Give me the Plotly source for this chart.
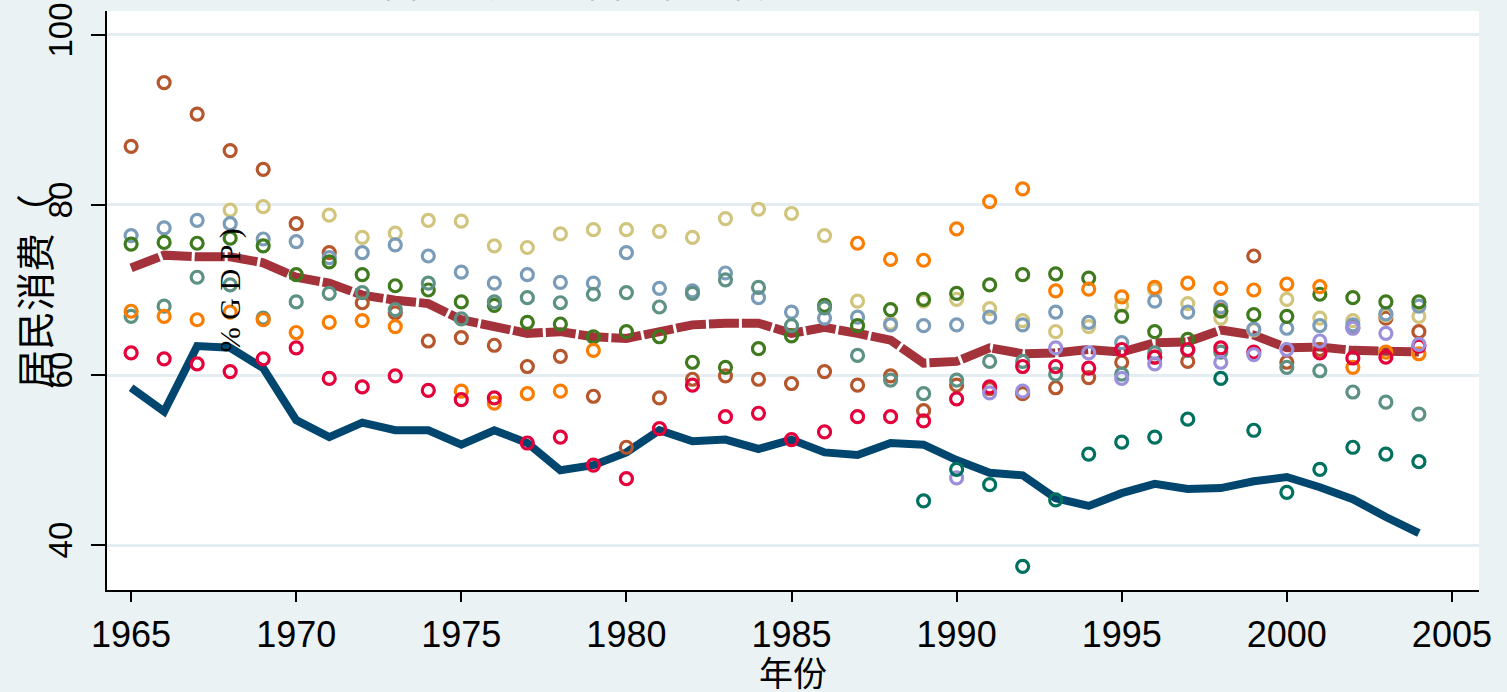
import plotly.graph_objects as go

years = list(range(1965, 2005))

china = [58.5, 55.7, 63.4, 63.2, 60.8, 54.7, 52.7, 54.4, 53.5, 53.5,
         51.8, 53.5, 52.0, 48.8, 49.4, 50.9, 53.5, 52.2, 52.4, 51.3,
         52.4, 50.9, 50.6, 52.0, 51.8, 50.0, 48.5, 48.2, 45.5, 44.6,
         46.1, 47.2, 46.6, 46.7, 47.5, 48.0, 46.8, 45.4, 43.3, 41.4]

world_avg = [72.6, 74.1, 73.9, 73.9, 73.2, 71.5, 70.8, 69.4, 68.8, 68.4,
             66.5, 65.7, 64.9, 65.1, 64.5, 64.3, 65.1, 65.9, 66.1, 66.1,
             64.9, 65.6, 64.9, 64.1, 61.4, 61.6, 63.2, 62.5, 62.6, 63.0,
             62.7, 63.8, 63.9, 65.3, 64.7, 63.2, 63.3, 62.9, 62.8, 62.7]

s_sienna = [86.9, 94.4, 90.7, 86.4, 84.2, 77.8, 74.4, 68.5, 67.3, 64.0,
            64.4, 63.5, 61.0, 62.2, 57.5, 51.5, 57.3, 59.5, 59.9, 59.5,
            59.0, 60.4, 58.8, 59.9, 55.8, 58.8, 58.4, 57.8, 58.5, 59.7,
            61.5, 62.1, 61.6, 67.6, 74.0, 61.5, 63.0, 65.6, 66.7, 65.1]

s_khaki = [None, None, None, 79.4, 79.8, None, 78.8, 76.2, 76.7, 78.2,
           78.1, 75.2, 75.0, 76.6, 77.1, 77.1, 76.9, 76.2, 78.4, 79.5,
           79.0, 76.4, 68.7, 66.1, 68.7, 68.9, 67.8, 66.4, 65.1, 65.7,
           68.2, 70.0, 68.4, 66.7, 65.3, 68.9, 66.7, 66.4, 67.0, 66.9]

s_blue = [76.4, 77.3, 78.2, 77.8, 76.0, 75.7, 73.8, 74.4, 75.3, 74.0,
          72.1, 70.8, 71.8, 70.9, 70.8, 74.4, 70.2, 69.9, 72.0, 69.1,
          67.4, 66.7, 66.8, 65.9, 65.8, 65.9, 66.8, 65.9, 67.4, 66.2,
          63.8, 68.7, 67.4, 68.0, 65.4, 65.5, 65.8, 65.9, 67.2, 68.1]

s_green = [75.4, 75.6, 75.5, 76.1, 75.2, 71.8, 73.3, 71.8, 70.5, 70.0,
           68.6, 68.2, 66.2, 66.0, 64.5, 65.1, 64.5, 61.5, 60.9, 63.1,
           64.6, 68.2, 65.8, 67.7, 68.9, 69.6, 70.6, 71.8, 71.9, 71.4,
           66.9, 65.1, 64.2, 67.5, 67.1, 66.9, 69.5, 69.1, 68.6, 68.6]

s_teal = [66.9, 68.1, 71.5, 70.6, 66.7, 68.6, 69.6, 69.7, 67.7, 70.8,
          66.6, 68.6, 69.1, 68.5, 69.5, 69.7, 68.0, 69.6, 71.2, 70.3,
          65.8, 67.9, 62.3, 59.4, 57.8, 59.4, 61.6, 61.6, 60.1, None,
          60.1, 62.6, 62.9, 62.7, None, 60.9, 60.5, 58.0, 56.8, 55.4]

s_orange = [67.5, 66.9, 66.5, 67.4, 66.5, 65.0, 66.2, 66.4, 65.7, None,
            58.1, 56.7, 57.8, 58.1, 62.9, None, None, None, None, None,
            None, None, 75.5, 73.6, 73.5, 77.2, 80.4, 81.9, 69.9, 70.1,
            69.2, 70.3, 70.8, 70.2, 70.0, 70.7, 70.4, 60.9, 62.7, 62.5]

s_red = [62.6, 61.9, 61.3, 60.4, 61.9, 63.2, 59.6, 58.6, 59.9, 58.2,
         57.1, 57.3, 52.0, 52.7, 49.4, 47.8, 53.7, 58.8, 55.1, 55.5,
         52.4, 53.3, 55.1, 55.1, 54.6, 57.2, 58.6, 61.0, 61.0, 60.8,
         63.0, 62.1, 63.0, 63.2, 62.7, None, 62.6, 62.0, 62.1, 63.4]

s_lavender = [None] * 25 + [47.9, 57.9, 58.1, 63.2, 62.6,
                            59.6, 61.3, None, 61.5, 62.4, 63.0, 64.0, 65.5, 64.9, 63.6]

s_dkteal = [None] * 24 + [45.2, 48.9, 47.1, 37.5, 45.3, 50.7,
                          52.1, 52.7, 54.8, 59.6, 53.5, 46.2, 48.9, 51.5, 50.7, 49.8]

x_ticks = [1965, 1970, 1975, 1980, 1985, 1990, 1995, 2000, 2005]
y_ticks = [40, 60, 80, 100]

scatter_series = [
    ("国家1", s_sienna, "#B5562D"),
    ("国家2", s_khaki, "#D1C57E"),
    ("国家3", s_blue, "#7A9CB8"),
    ("国家4", s_green, "#3F7A1F"),
    ("国家5", s_teal, "#5D9184"),
    ("国家6", s_orange, "#FA7D00"),
    ("国家7", s_red, "#E4003A"),
    ("国家8", s_lavender, "#9C8FDB"),
    ("国家9", s_dkteal, "#00715F"),
]

fig = go.Figure()

fig.add_trace(go.Scatter(x=years, y=china, mode="lines", name="中国",
                         line=dict(color="#00466F", width=8)))
fig.add_trace(go.Scatter(x=years, y=world_avg, mode="lines", name="平均",
                         line=dict(color="#A3323A", width=9, dash="30px,3px")))

for name, vals, col in scatter_series:
    fig.add_trace(go.Scatter(x=years, y=vals, mode="markers", name=name,
                             marker=dict(symbol="circle-open", size=12, color=col,
                                         line=dict(width=3.2, color=col))))

L, R, T, B = 107, 28, 11, 102
W, H = 1507, 692
pw, ph = W - L - R, H - T - B

def px_x(p):
    return (p - L) / pw

def px_y(p):
    return (H - B - p) / ph

fig.update_layout(
    width=W, height=H,
    margin=dict(l=L, r=R, t=T, b=B, pad=0, autoexpand=False),
    paper_bgcolor="#EAF2F3",
    plot_bgcolor="#FFFFFF",
    showlegend=False,
    font=dict(family="Liberation Sans, Arial, sans-serif", color="black"),
    xaxis=dict(range=[1964.27, 2005.82], tickvals=x_ticks, automargin=False,
               ticks="outside", ticklen=10, tickwidth=1.5, tickcolor="black",
               showline=True, linecolor="black", linewidth=1.5,
               showgrid=False, zeroline=False,
               tickfont=dict(size=36), ticklabelstandoff=2),
    yaxis=dict(range=[34.71, 102.82], tickvals=y_ticks, tickangle=-90, automargin=False,
               ticks="outside", ticklen=14, tickwidth=1.5, tickcolor="black",
               showline=True, linecolor="black", linewidth=1.5,
               showgrid=True, gridcolor="#E4EDF1", gridwidth=3, zeroline=False,
               tickfont=dict(size=33), ticklabelstandoff=6),
    annotations=[
        dict(text="中国与世界主要国家居民消费率的比较（1965—2004年）",
             xref="paper", yref="paper", x=px_x(780), y=px_y(9),
             xanchor="center", yanchor="bottom", showarrow=False,
             font=dict(size=34, color="#14305E", family="Noto Sans CJK SC")),
        dict(text="居民消费（", textangle=-90,
             xref="paper", yref="paper", x=px_x(33), y=px_y(292),
             xanchor="center", yanchor="middle", showarrow=False,
             font=dict(size=39, color="black", family="Noto Sans CJK SC")),
        dict(text="% G D P )", textangle=-90,
             xref="x", yref="y", x=1968, y=70.0,
             xanchor="center", yanchor="middle", showarrow=False,
             font=dict(size=30, color="black", family="Liberation Serif")),
        dict(text="年份",
             xref="paper", yref="paper", x=0.5, y=px_y(671),
             xanchor="center", yanchor="middle", showarrow=False,
             font=dict(size=34, color="black", family="Noto Sans CJK SC")),
    ],
)

fig.write_html("out.html", config={"displayModeBar": False},
               post_script="document.body.style.margin='0';document.body.style.overflow='hidden';")
